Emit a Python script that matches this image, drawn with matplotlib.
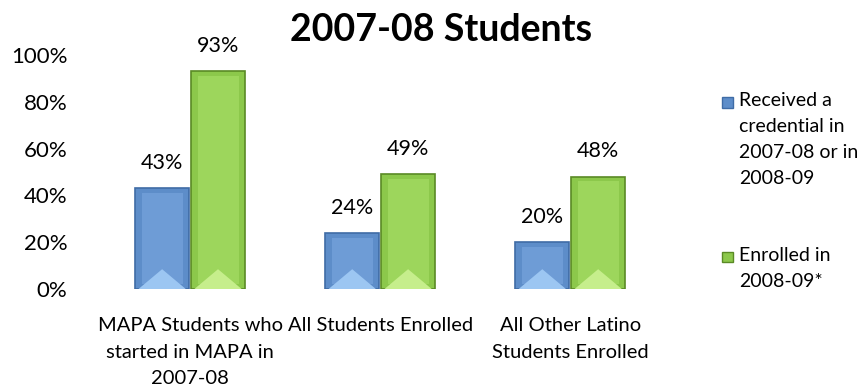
import matplotlib
matplotlib.use('Agg')
import matplotlib.pyplot as plt
from matplotlib.patches import Polygon, Rectangle

plt.rcParams['font.family'] = ['Lato', 'DejaVu Sans']

# data
categories = ['MAPA Students who\nstarted in MAPA in\n2007-08',
              'All Students Enrolled',
              'All Other Latino\nStudents Enrolled']
credential = [0.43, 0.24, 0.20]
enrolled = [0.93, 0.49, 0.48]
series_names = ['Received a\ncredential in\n2007-08 or in\n2008-09',
                'Enrolled in\n2008-09*']
yticks = [0, 0.2, 0.4, 0.6, 0.8, 1.0]
ytick_labels = ['0%', '20%', '40%', '60%', '80%', '100%']

blue = dict(face='#5D8DC9', edge='#3F6CA6', light='#9CC6F2', inner='#6E9CD6')
green = dict(face='#8CC84B', edge='#5A8A25', light='#C6EE8C', inner='#9DD65C')

fig = plt.figure(figsize=(8.64, 3.87), dpi=100)
ax = fig.add_axes([0.110, 0.253, 0.660, 0.605])

x = list(range(len(categories)))
w = 0.284
off = 0.147


def bevel(bars, col):
    # fake the excel bevel: darker edge, inner panel, light triangle at the bottom
    for b in bars:
        x0, y0 = b.get_x(), b.get_y()
        bw, bh = b.get_width(), b.get_height()
        ix = bw * 0.12
        iy = 0.02
        ax.add_patch(Rectangle((x0 + ix, y0 + iy), bw - 2 * ix, bh - 2 * iy,
                               facecolor=col['inner'], edgecolor='none', zorder=3))
        th = min(0.085, bh * 0.45)
        ax.add_patch(Polygon([(x0 + ix * 0.5, y0), (x0 + bw - ix * 0.5, y0),
                              (x0 + bw / 2, y0 + th)],
                             closed=True, facecolor=col['light'], edgecolor='none', zorder=4))


b1 = ax.bar([i - off for i in x], credential, w, color=blue['face'],
            edgecolor=blue['edge'], linewidth=1.2, zorder=2)
b2 = ax.bar([i + off for i in x], enrolled, w, color=green['face'],
            edgecolor=green['edge'], linewidth=1.2, zorder=2)
bevel(b1, blue)
bevel(b2, green)

for bars, vals in ((b1, credential), (b2, enrolled)):
    for b, v in zip(bars, vals):
        ax.annotate('%d%%' % round(v * 100), (b.get_x() + b.get_width() / 2, v),
                    xytext=(0, 11), textcoords='offset points',
                    ha='center', va='bottom', fontsize=15.5)

ax.set_xlim(-0.5, 2.5)
ax.set_ylim(0, 1.0)
ax.set_yticks(yticks)
ax.set_yticklabels(ytick_labels, fontsize=16)
ax.set_xticks(x)
ax.set_xticklabels(categories, fontsize=14.5, linespacing=1.7, va='top')
ax.tick_params(axis='both', length=0)
ax.tick_params(axis='y', pad=20)
ax.tick_params(axis='x', pad=20)
for s in ax.spines.values():
    s.set_visible(False)

fig.text(0.511, 0.922, '2007-08 Students', ha='center', va='center',
         fontsize=27, fontweight='bold')

# legend, drawn by hand so the swatch sits on the first line of each entry
leg_tops = [0.762, 0.362]
for col, name, top in zip((blue, green), series_names, leg_tops):
    fig.patches.append(Rectangle((0.836, top - 0.040), 0.0125, 0.028,
                                 transform=fig.transFigure, facecolor=col['face'],
                                 edgecolor=col['edge'], linewidth=1))
    fig.text(0.855, top, name, ha='left', va='top', fontsize=14, linespacing=1.65)

fig.savefig('out.png', dpi=100)
